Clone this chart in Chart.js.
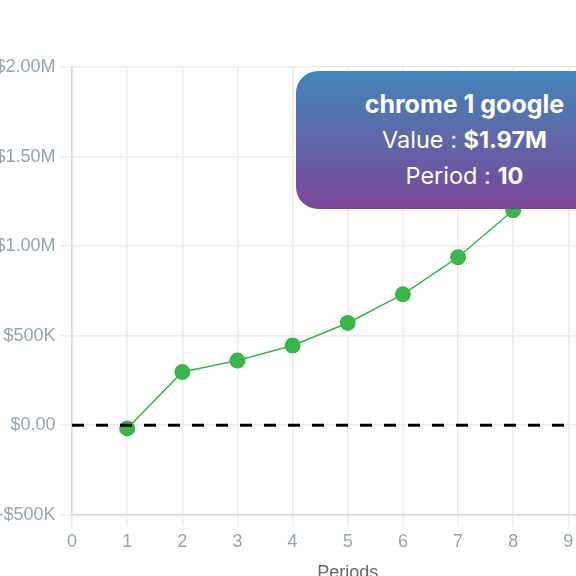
<!DOCTYPE html>
<html lang="en">
<head>
    <script src="https://cdn.jsdelivr.net/npm/chart.js@4.4.0/dist/chart.umd.min.js"></script>
    <style>
        html, body { margin: 0; padding: 0; overflow: hidden; background: #fff; width: 576px; height: 576px; }
        #wrap { position: absolute; left: -9px; top: 0; width: 647px; height: 590px; }
        #tip {
            position: absolute; display: none; width: 336px; height: 138px; box-sizing: border-box;
            padding: 15px 0; border-radius: 22px; color: #fff; text-align: center;
            background: linear-gradient(to bottom, #4485b8, #7b479a);
            font-family: Inter, sans-serif; font-size: 23.5px; line-height: 36px; pointer-events: none;
        }
        #tip .t { font-weight: 700; font-size: 25px; }
        #tip b { font-weight: 700; }
    </style>
</head>

<body>
<div id="wrap">
    <canvas id="myChart"></canvas>
    <div id="tip"></div>
</div>
<script>
    // values
    const periods = [1, 2, 3, 4, 5, 6, 7, 8, 9, 10];
    const values = [-18000, 297000, 361000, 445000, 571000, 731000, 938000, 1200000, 1550000, 1970000];
    const seriesName = 'chrome 1 google';
    const zeroLineX = [0, 10];
    const yMin = -500000, yMax = 2000000, yStep = 500000;
    const xMin = 0, xMax = 10;

    function money(v) {
        const a = Math.abs(v);
        let s;
        if (a >= 1e6) s = '$' + (a / 1e6).toFixed(2) + 'M';
        else if (a >= 1e3) s = '$' + Math.round(a / 1e3) + 'K';
        else s = '$' + a.toFixed(2);
        return (v < 0 ? '-' : '') + s;
    }

    function externalTip(context) {
        const tip = document.getElementById('tip');
        const t = context.tooltip;
        if (t.opacity === 0 || !t.dataPoints || !t.dataPoints.length) {
            tip.style.display = 'none';
            return;
        }
        const p = t.dataPoints[0];
        tip.innerHTML = '<div class="t">' + p.dataset.label + '</div>' +
            '<div>Value : <b>' + money(p.parsed.y) + '</b></div>' +
            '<div>Period : <b>' + p.parsed.x + '</b></div>';
        tip.style.display = 'block';
        tip.style.left = (t.caretX - 327) + 'px';
        tip.style.top = (t.caretY - 1) + 'px';
    }

    const tickFont = { family: "'Liberation Sans', Arial, sans-serif", size: 18 };
    const tickColor = '#93a5ad';

    const config = {
        type: 'line',
        data: {
            datasets: [
                {
                    label: 'zero',
                    data: zeroLineX.map(x => ({ x: x, y: 0 })),
                    borderColor: '#000',
                    borderWidth: 3,
                    borderDash: [12, 12],
                    pointRadius: 0,
                    pointHoverRadius: 0,
                    order: 0
                },
                {
                    label: seriesName,
                    data: periods.map((p, i) => ({ x: p, y: values[i] })),
                    borderColor: '#39b54a',
                    backgroundColor: '#39b54a',
                    borderWidth: 1.5,
                    pointRadius: 8,
                    pointHoverRadius: 8,
                    pointBorderWidth: 0,
                    order: 1
                }
            ]
        },
        options: {
            responsive: true,
            maintainAspectRatio: false,
            animation: false,
            layout: { padding: { top: 67, right: 0, left: 0, bottom: 0 } },
            plugins: {
                legend: { display: false },
                tooltip: {
                    enabled: false,
                    external: externalTip,
                    filter: item => item.datasetIndex === 1
                }
            },
            scales: {
                x: {
                    type: 'linear',
                    min: xMin,
                    max: xMax,
                    ticks: { stepSize: 1, font: tickFont, color: tickColor, padding: 4.5 },
                    grid: { color: '#ececec', lineWidth: 1.5, tickLength: 12 },
                    border: { color: '#d8d8d8', width: 1.5 },
                    title: {
                        display: true,
                        text: 'Periods',
                        color: '#666',
                        font: { family: "'Liberation Sans', Arial, sans-serif", size: 18 },
                        padding: { top: 5, bottom: 6 }
                    }
                },
                y: {
                    min: yMin,
                    max: yMax,
                    ticks: { stepSize: yStep, font: tickFont, color: tickColor, padding: 4.5, callback: v => money(v) },
                    grid: { color: '#ececec', lineWidth: 1.5, tickLength: 12 },
                    border: { color: '#d8d8d8', width: 1.5 }
                }
            }
        }
    };

    const myChart = new Chart(document.getElementById('myChart'), config);
    myChart.tooltip.setActiveElements([{ datasetIndex: 1, index: periods.length - 1 }], { x: 0, y: 0 });
    myChart.update();
</script>
</body>
</html>
